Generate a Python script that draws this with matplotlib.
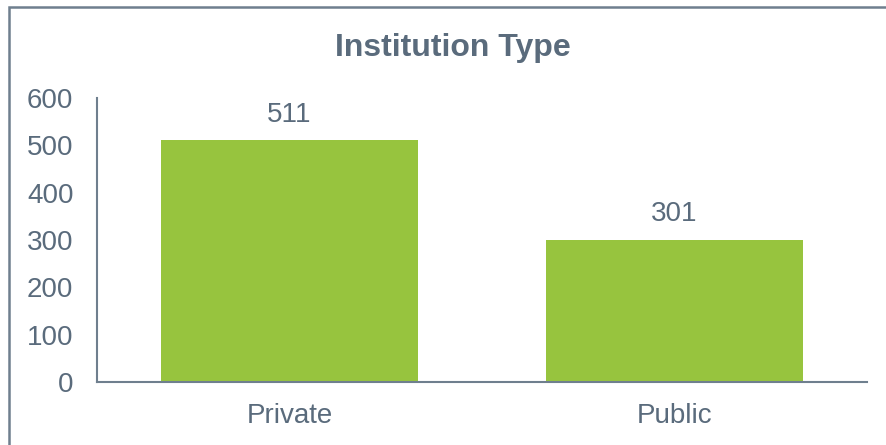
import matplotlib.pyplot as plt
from matplotlib.patches import Rectangle

categories = ["Private", "Public"]
counts = [511, 301]
y_ticks = [0, 100, 200, 300, 400, 500, 600]

text_color = "#5A6B7C"
axis_color = "#6F7F8E"
bar_color = "#97C43E"

plt.rcParams['font.family'] = ['Liberation Sans', 'DejaVu Sans']

fig = plt.figure(figsize=(8.86, 4.45), dpi=100)
ax = fig.add_axes([97 / 886, 63 / 445, 770 / 886, 284 / 445])

x = range(len(categories))
ax.bar(x, counts, width=0.665, color=bar_color)
for xi, v in zip(x, counts):
    ax.annotate(str(v), (xi, v), xytext=(0, 9), textcoords="offset points",
                ha="center", va="bottom", fontsize=20, color=text_color)

ax.set_xlim(-0.5, 1.5)
ax.set_ylim(0, 600)
ax.set_yticks(y_ticks)
ax.set_xticks(list(x))
ax.set_xticklabels(categories)
ax.tick_params(axis="both", length=0, labelsize=20, labelcolor=text_color)
ax.tick_params(axis="y", pad=17)
ax.tick_params(axis="x", pad=15)
for side in ("top", "right"):
    ax.spines[side].set_visible(False)
for side in ("left", "bottom"):
    ax.spines[side].set_color(axis_color)
    ax.spines[side].set_linewidth(1.5)

fig.text(453 / 886, 1 - 48 / 445, "Institution Type", ha="center", va="center",
         fontsize=23, fontweight="bold", color=text_color)

# outer frame, running off the right and bottom edges
fig.patches.append(Rectangle((8.5 / 886, -0.05), 1.2, 1 - 6.5 / 445 + 0.05,
                             transform=fig.transFigure, fill=False,
                             edgecolor=axis_color, linewidth=1.8))

fig.savefig("out.png", dpi=100)
